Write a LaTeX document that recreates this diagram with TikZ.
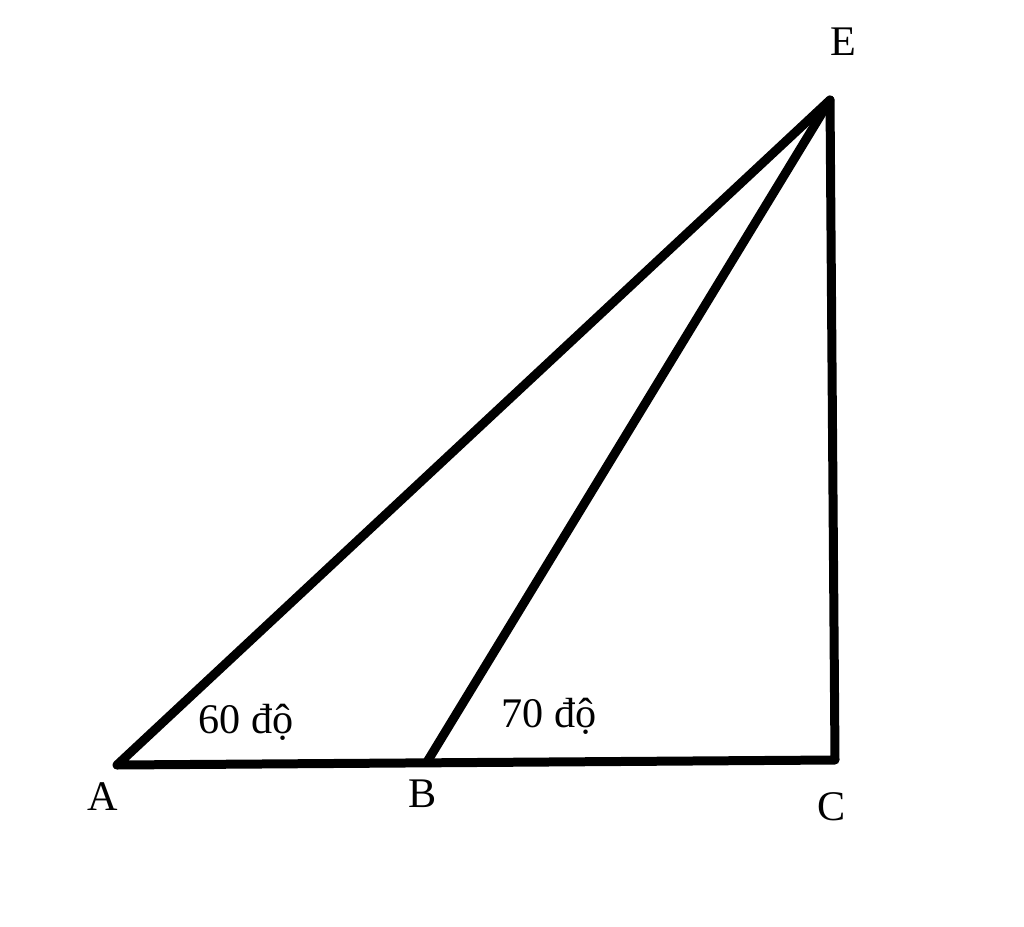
\documentclass[tikz,border=0pt]{standalone}
\usepackage{fontspec}
\setmainfont{Liberation Serif}
\begin{document}
\begin{tikzpicture}[x=0.02cm,y=-0.02cm,
		edge/.style={line width=0.18cm,black,line join=round,line cap=round},
		lbl/.style={font=\fontsize{24}{28}\selectfont,inner sep=0pt}]
		\useasboundingbox (0,0) rectangle (1024,926);
		\coordinate (A) at (117,765);
		\coordinate (B) at (427,762);
		\coordinate (C) at (835,760);
		\coordinate (E) at (830,100);
		\draw[edge] (A) -- (C) -- (E) -- cycle;
		\draw[edge] (B) -- (E);
		\node[lbl] (lA) at (103,797) {A};
		\node[lbl] (lB) at (423,794) {B};
		\node[lbl] (lC) at (832,807) {C};
		\node[lbl] (lE) at (843,42) {E};
		\node[lbl] (angA) at (246,722) {60 độ};
		\node[lbl] (angB) at (549,716) {70 độ};
\end{tikzpicture}
\end{document}
